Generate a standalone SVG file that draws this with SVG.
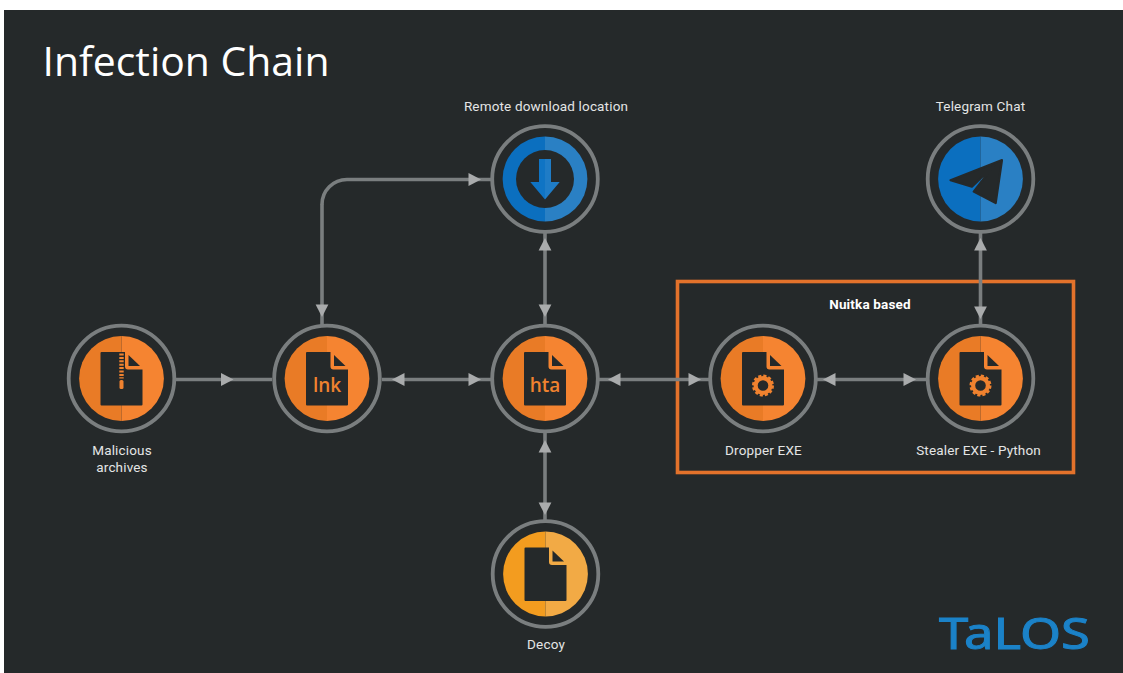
<svg xmlns="http://www.w3.org/2000/svg" xmlns:xlink="http://www.w3.org/1999/xlink" width="1123" height="673" viewBox="0 0 1123 673">
<style>
.bg{fill:#25292a}
.ring{fill:#25292a;stroke:#7a7e7f;stroke-width:3.8}
.o1{fill:#e97b26}.o2{fill:#f58431}
.b1{fill:#0b6fbf}.b2{fill:#2a80c4}
.y1{fill:#f39c1f}.y2{fill:#f2aa45}
.dark{fill:#25292a}
.conn{fill:none;stroke:#7a7e7f;stroke-width:3.6}
.hf{marker-mid:url(#head)}
.lbl{font-family:Roboto,"Liberation Sans",sans-serif;font-size:13.5px;letter-spacing:.16px;fill:#e4e5e5;text-anchor:middle}
.ext{font-family:"Open Sans","Noto Sans",sans-serif;font-weight:600;font-size:19px;fill:#f0822f;text-anchor:middle}
</style>
<defs>
<marker id="head" markerUnits="userSpaceOnUse" markerWidth="14" markerHeight="14" refX="13" refY="7" orient="auto" viewBox="0 0 14 14"><path d="M0.5,0.6 L13,7 L0.5,13.4 Z" fill="#a9abac"/></marker>
<g id="ring"><circle r="52.8" class="ring"/></g>
<g id="orange"><use xlink:href="#ring" href="#ring"/><path d="M0,-42.4 A42.4,42.4 0 0 0 0,42.4 Z" class="o1"/><path d="M0,-42.4 A42.4,42.4 0 0 1 0,42.4 Z" class="o2"/></g>
<g id="doc"><path d="M-21,-25.5 Q-21,-26.5 -20,-26.5 H3.5 V-12 Q3.5,-9 6.5,-9 H21 V26 Q21,27 20,27 H-20 Q-21,27 -21,26 Z" class="dark"/><path d="M7,-23.5 L18.5,-12.5 H7 Z" class="dark"/></g>
<g id="gear"><circle r="7.4" fill="none" stroke="#f0822f" stroke-width="4.2"/><circle r="9.7" fill="none" stroke="#f0822f" stroke-width="2.6" stroke-dasharray="3.1 1.98"/></g>
</defs>
<rect x="4" y="10" width="1119" height="663" class="bg"/>
<text id="title" x="42.5" y="76" font-family="'Open Sans','Noto Sans',sans-serif" font-size="40" fill="#ffffff" textLength="287" lengthAdjust="spacingAndGlyphs">Infection Chain</text>
<rect id="nuitka-box" x="677.5" y="281.5" width="396" height="191" fill="none" stroke="#e3722b" stroke-width="3.6"/>
<g id="connectors">
<path class="conn hf" d="M176,379.5 L233.5,379.5 L272,379.5"/>
<path class="conn hf" d="M437,379.5 L392,379.5 L382,379.5"/>
<path class="conn hf" d="M437,379.5 L481,379.5 L491,379.5"/>
<path class="conn hf" d="M655,379.5 L608,379.5 L599,379.5"/>
<path class="conn hf" d="M655,379.5 L701,379.5 L709,379.5"/>
<path class="conn hf" d="M870,379.5 L823,379.5 L817,379.5"/>
<path class="conn hf" d="M870,379.5 L916,379.5 L926,379.5"/>
<path class="conn hf" d="M545,280 L545,238 L545,232"/>
<path class="conn hf" d="M545,280 L545,317 L545,324"/>
<path class="conn hf" d="M545,477 L545,440 L545,433"/>
<path class="conn hf" d="M545,477 L545,515 L545,520"/>
<path class="conn hf" d="M980.5,280 L980.5,238 L980.5,232"/>
<path class="conn hf" d="M980.5,280 L980.5,319 L980.5,325"/>
<path class="conn hf" d="M322,204 L322,317 L322,325"/>
<path class="conn hf" d="M347,179.5 L481,179.5 L492,179.5"/>
<path class="conn" d="M322,204.5 A25,25 0 0 1 347,179.5"/>
</g>
<g id="node-archives" transform="translate(121.5,378.5)">
<use href="#orange"/><use href="#doc"/>
<path d="M0,-25 V0" fill="none" stroke="#f0822f" stroke-width="4.4" stroke-dasharray="2 1.4"/>
<rect x="-2" y="1.5" width="4" height="9" rx="1.5" fill="#f0822f"/>
</g>
<text class="lbl" x="122" y="455">Malicious</text>
<text class="lbl" x="122" y="472">archives</text>
<g id="node-lnk" transform="translate(327,378.5)">
<use href="#orange"/><use href="#doc"/>
<text class="ext" x="0" y="13.5">lnk</text>
</g>
<g id="node-hta" transform="translate(545,378.5)">
<use href="#orange"/><use href="#doc"/>
<text class="ext" x="0" y="13.5">hta</text>
</g>
<g id="node-dropper" transform="translate(763,378.5)">
<use href="#orange"/><use href="#doc"/><use href="#gear" x="0" y="7"/>
</g>
<text class="lbl" x="763.5" y="455">Dropper EXE</text>
<g id="node-stealer" transform="translate(980.5,378.5)">
<use href="#orange"/><use href="#doc"/><use href="#gear" x="0" y="7"/>
</g>
<text class="lbl" x="978.5" y="455">Stealer EXE - Python</text>
<g id="node-remote" transform="translate(545,179)">
<use href="#ring"/>
<path d="M0,-42.4 A42.4,42.4 0 0 0 0,42.4 Z" class="b1"/><path d="M0,-42.4 A42.4,42.4 0 0 1 0,42.4 Z" class="b2"/>
<circle r="29" class="dark"/>
<path d="M-6,-20 H0 V20.5 L-14.7,3 H-6 Z" fill="#0f74c4"/><path d="M6,-20 H0 V20.5 L14.7,3 H6 Z" fill="#1f7cc6"/>
</g>
<text class="lbl" x="546" y="111">Remote download location</text>
<g id="node-telegram" transform="translate(980.5,179)">
<use href="#ring"/>
<path d="M0,-42.4 A42.4,42.4 0 0 0 0,42.4 Z" class="b1"/><path d="M0,-42.4 A42.4,42.4 0 0 1 0,42.4 Z" class="b2"/>
<path d="M21.5,-19 L-30,1.2 L-8.6,7.6 L13.5,-13.5 L-6.8,12.6 L15.2,24 Z" class="dark" stroke="#25292a" stroke-width="2.2" stroke-linejoin="round"/>
</g>
<text class="lbl" x="980.5" y="111">Telegram Chat</text>
<g id="node-decoy" transform="translate(545.5,574)">
<use href="#ring"/>
<path d="M0,-42.4 A42.4,42.4 0 0 0 0,42.4 Z" class="y1"/><path d="M0,-42.4 A42.4,42.4 0 0 1 0,42.4 Z" class="y2"/>
<use href="#doc"/>
</g>
<text class="lbl" x="546" y="649">Decoy</text>
<text id="nuitka-label" x="870" y="309" font-family="Roboto,'Liberation Sans',sans-serif" font-size="13.5px" letter-spacing=".16px" font-weight="700" fill="#ffffff" text-anchor="middle">Nuitka based</text>
<text id="talos" x="939" y="649" font-family="'Noto Sans','Liberation Sans',sans-serif" font-size="44" fill="#1b82c8" stroke="#1b82c8" stroke-width="1" textLength="151" lengthAdjust="spacingAndGlyphs">TaLOS</text>
</svg>
